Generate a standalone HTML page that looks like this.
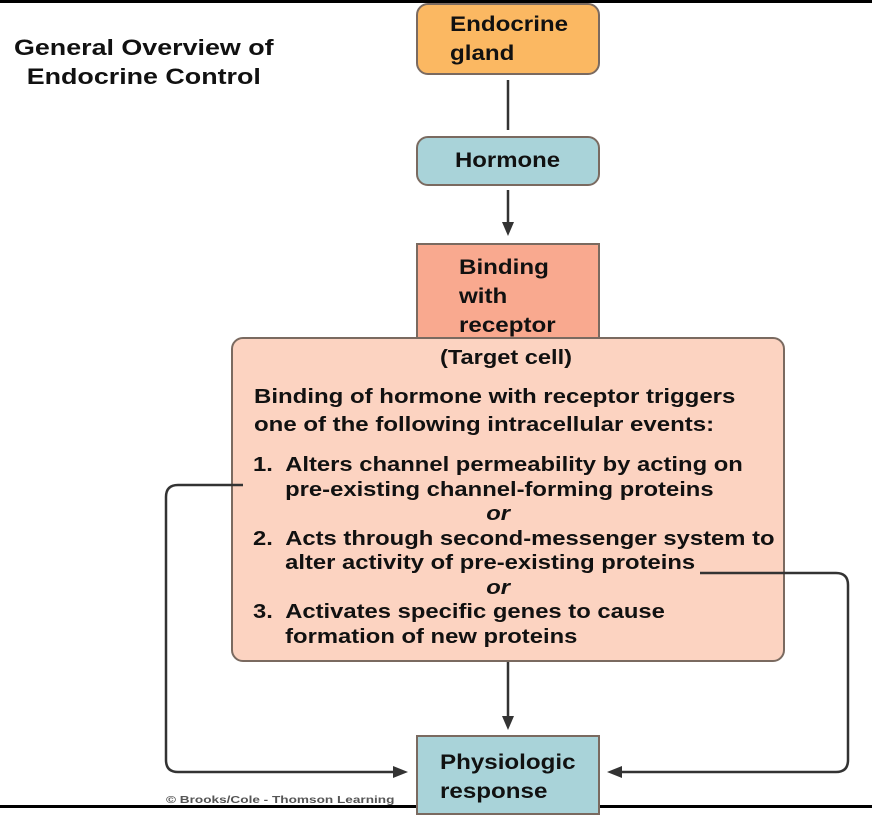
<!DOCTYPE html>
<html><head><style>
body{margin:0;width:872px;height:808px;background:#fff;position:relative;overflow:hidden;font-family:"Liberation Sans",Arial,sans-serif;font-weight:bold;color:#111}
.b{position:absolute;box-sizing:border-box;border:2px solid #7a6a60}
.t{position:absolute;white-space:nowrap;transform-origin:0 0}
.i{margin-left:27px}
</style></head><body>
<div style="position:absolute;left:0;top:0;width:872px;height:3px;background:#000"></div>
<div style="position:absolute;left:0;top:805px;width:872px;height:3px;background:#000"></div>
<div class="t" style="left:14px;top:33px;font-size:22px;line-height:29px;text-align:center;transform:scaleX(1.22)">General Overview of<br>Endocrine Control</div>
<div class="b" style="left:416px;top:3px;width:184px;height:72px;background:#fbb862;border-radius:12px"></div>
<div class="t" style="left:450px;top:10px;font-size:21px;line-height:29px;transform:scaleX(1.15)">Endocrine<br>gland</div>
<div class="b" style="left:416px;top:136px;width:184px;height:50px;background:#a9d3d9;border-radius:12px"></div>
<div class="t" style="left:455px;top:149px;font-size:21px;transform:scaleX(1.14)">Hormone</div>
<div class="b" style="left:416px;top:243px;width:184px;height:100px;background:#f9a98f;border-radius:0"></div>
<div class="t" style="left:459px;top:253px;font-size:21px;line-height:29px;transform:scaleX(1.15)">Binding<br>with<br>receptor</div>
<div class="b" style="left:231px;top:337px;width:554px;height:325px;background:#fcd3c1;border-radius:12px"></div>
<div class="t" style="left:440px;top:347px;font-size:20px;transform:scaleX(1.18)">(Target cell)</div>
<div class="t" style="left:254px;top:383px;font-size:20px;line-height:28px;transform:scaleX(1.2)">Binding of hormone with receptor triggers<br>one of the following intracellular events:</div>
<div class="t" style="left:253px;top:453px;font-size:20px;line-height:24.5px;transform:scaleX(1.19)">1.&nbsp; Alters channel permeability by acting on<br><span class="i">pre-existing channel-forming proteins</span><br><span style="margin-left:196px;font-style:italic">or</span><br>2.&nbsp; Acts through second-messenger system to<br><span class="i">alter activity of pre-existing proteins</span><br><span style="margin-left:196px;font-style:italic">or</span><br>3.&nbsp; Activates specific genes to cause<br><span class="i">formation of new proteins</span></div>
<div class="b" style="left:416px;top:735px;width:184px;height:80px;background:#a9d3d9"></div>
<div class="t" style="left:440px;top:748px;font-size:21px;line-height:29px;transform:scaleX(1.15)">Physiologic<br>response</div>
<div class="t" style="left:166px;top:795px;font-size:10px;color:#555;transform:scaleX(1.36)">© Brooks/Cole - Thomson Learning</div>
<svg width="872" height="808" style="position:absolute;left:0;top:0" fill="none" stroke="#333" stroke-width="2.5">
<line x1="508" y1="80" x2="508" y2="130"/>
<line x1="508" y1="190" x2="508" y2="225"/>
<polygon points="502,222 514,222 508,236" fill="#333" stroke="none"/>
<line x1="508" y1="662" x2="508" y2="718"/>
<polygon points="502,716 514,716 508,730" fill="#333" stroke="none"/>
<path d="M243 485 H178 Q166 485 166 497 V760 Q166 772 178 772 H395"/>
<polygon points="393,766 393,778 408,772" fill="#333" stroke="none"/>
<path d="M700 573 H836 Q848 573 848 585 V760 Q848 772 836 772 H620"/>
<polygon points="622,766 622,778 607,772" fill="#333" stroke="none"/>
</svg>
</body></html>
